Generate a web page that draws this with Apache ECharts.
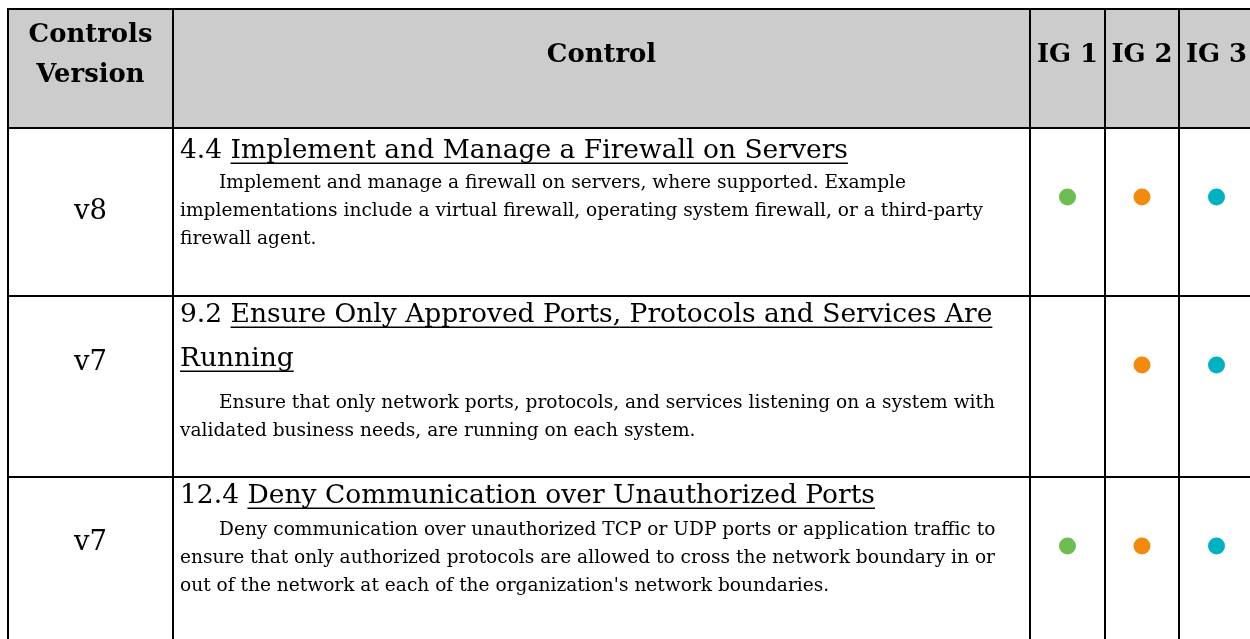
<!DOCTYPE html>
<html>
<head>
<meta charset="utf-8">
<script src="https://cdn.jsdelivr.net/npm/echarts@6/dist/echarts.min.js"></script>
<style>
html,body{margin:0;padding:0;background:#ffffff;}
#main{width:1250px;height:639px;}
</style>
</head>
<body>
<div id="main"></div>
<script>
// ---------------- data ----------------
const headers = ['Controls\nVersion', 'Control', 'IG 1', 'IG 2', 'IG 3'];
const versions = ['v8', 'v7', 'v7'];
const controlIds = ['4.4', '9.2', '12.4'];
const controlTitleLines = [
  ['Implement and Manage a Firewall on Servers'],
  ['Ensure Only Approved Ports, Protocols and Services Are', 'Running'],
  ['Deny Communication over Unauthorized Ports']
];
const controlDescLines = [
  ['Implement and manage a firewall on servers, where supported. Example',
   'implementations include a virtual firewall, operating system firewall, or a third-party',
   'firewall agent.'],
  ['Ensure that only network ports, protocols, and services listening on a system with',
   'validated business needs, are running on each system.'],
  ['Deny communication over unauthorized TCP or UDP ports or application traffic to',
   'ensure that only authorized protocols are allowed to cross the network boundary in or',
   "out of the network at each of the organization's network boundaries."]
];
const ig1 = [true, false, true];
const ig2 = [true, true, true];
const ig3 = [true, true, true];

// ---------------- layout ----------------
const colX = [8, 173, 1030, 1105, 1179, 1254];
const rowY = [9, 128, 296, 477, 645];
const FAMILY = '"DejaVu Serif", serif';
const headerFill = '#cccccc';
const igColors = ['#6dbd52', '#f38a10', '#00b1c1'];
const titleOffsets = [23, 19, 19];
const bodyGaps = [32, 44, 34];
const titlePitch = 44, bodyPitch = 28.3, bodyIndent = 39, textLeftPad = 7;
const versionOffset = [84, 67, 66];
const dotOffset = 69;

const mctx = document.createElement('canvas').getContext('2d');
function measure(text, font) { mctx.font = font; return mctx.measureText(text).width; }
function fitSize(text, weight, target) {
  return 100 * target / measure(text, weight + ' 100px ' + FAMILY);
}
const titleSize = fitSize('4.4 Implement and Manage a Firewall on Servers', 'normal', 668);
const bodySize = fitSize('implementations include a virtual firewall, operating system firewall, or a third-party', 'normal', 803);
const headerSize = fitSize('Controls', 'bold', 124);
const versionSize = fitSize('v7', 'normal', 33);
const titleFont = 'normal ' + titleSize.toFixed(2) + 'px ' + FAMILY;
const bodyFont = 'normal ' + bodySize.toFixed(2) + 'px ' + FAMILY;
const headerFont = 'bold ' + headerSize.toFixed(2) + 'px ' + FAMILY;
const versionFont = 'normal ' + versionSize.toFixed(2) + 'px ' + FAMILY;

const cells = [];
for (let r = 0; r < rowY.length - 1; r++) {
  for (let c = 0; c < colX.length - 1; c++) cells.push([c, r]);
}

function textEl(api, str, x, y, font, align) {
  const p = api.coord([x, y]);
  return { type: 'text', z2: 5, style: { text: str, x: p[0], y: p[1], font: font, fill: '#000000', align: align || 'left', verticalAlign: 'middle' } };
}

function renderCell(params, api) {
  const c = api.value(0), r = api.value(1);
  const p0 = api.coord([colX[c], rowY[r]]);
  const p1 = api.coord([colX[c + 1], rowY[r + 1]]);
  const children = [];
  children.push({ type: 'rect', z2: 0, shape: { x: p0[0], y: p0[1], width: p1[0] - p0[0], height: p1[1] - p0[1] },
    style: { fill: r === 0 ? headerFill : '#ffffff' } });
  children.push({ type: 'rect', z2: 10, shape: { x: p0[0], y: p0[1], width: p1[0] - p0[0], height: p1[1] - p0[1] },
    style: { fill: null, stroke: '#000000', lineWidth: 2 } });
  const cx = (colX[c] + colX[c + 1]) / 2;
  if (r === 0) {
    const parts = headers[c].split('\n');
    if (parts.length === 2) {
      children.push(textEl(api, parts[0], cx, 35, headerFont, 'center'));
      children.push(textEl(api, parts[1], cx, 75, headerFont, 'center'));
    } else {
      children.push(textEl(api, parts[0], cx, 55, headerFont, 'center'));
    }
  } else {
    const i = r - 1;
    if (c === 0) {
      children.push(textEl(api, versions[i], cx, rowY[r] + versionOffset[i], versionFont, 'center'));
    } else if (c === 1) {
      const x0 = colX[1] + textLeftPad;
      const prefix = controlIds[i] + ' ';
      const pw = measure(prefix, titleFont);
      let y = rowY[r] + titleOffsets[i];
      controlTitleLines[i].forEach(function (ln, k) {
        const lx = k === 0 ? x0 + pw : x0;
        if (k === 0) children.push(textEl(api, prefix, x0, y, titleFont, 'left'));
        children.push(textEl(api, ln, lx, y, titleFont, 'left'));
        const w = measure(ln, titleFont);
        const ua = api.coord([lx, y + titleSize * 0.46]);
        const ub = api.coord([lx + w, y + titleSize * 0.46]);
        children.push({ type: 'line', z2: 5, shape: { x1: ua[0], y1: ua[1], x2: ub[0], y2: ub[1] },
          style: { stroke: '#000000', lineWidth: 1.5 } });
        if (k < controlTitleLines[i].length - 1) y += titlePitch;
      });
      let by = y + bodyGaps[i];
      controlDescLines[i].forEach(function (ln, k) {
        children.push(textEl(api, ln, k === 0 ? x0 + bodyIndent : x0, by, bodyFont, 'left'));
        by += bodyPitch;
      });
    }
  }
  return { type: 'group', children: children };
}

function dotData(flags, col) {
  const out = [];
  flags.forEach(function (f, i) {
    if (f) out.push([(colX[col] + colX[col + 1]) / 2, rowY[i + 1] + dotOffset]);
  });
  return out;
}

const chart = echarts.init(document.getElementById('main'), null, { renderer: 'canvas' });
chart.setOption({
  animation: false,
  backgroundColor: '#ffffff',
  grid: { left: 0, right: 0, top: 0, bottom: 0 },
  xAxis: { type: 'value', min: 0, max: 1250, show: false },
  yAxis: { type: 'value', min: 0, max: 639, inverse: true, show: false },
  series: [
    { type: 'custom', z: 2, clip: false, renderItem: renderCell, data: cells, silent: true },
    { type: 'scatter', z: 5, name: 'IG 1', data: dotData(ig1, 2), symbolSize: 17, itemStyle: { color: igColors[0], opacity: 1 }, silent: true },
    { type: 'scatter', z: 5, name: 'IG 2', data: dotData(ig2, 3), symbolSize: 17, itemStyle: { color: igColors[1], opacity: 1 }, silent: true },
    { type: 'scatter', z: 5, name: 'IG 3', data: dotData(ig3, 4), symbolSize: 17, itemStyle: { color: igColors[2], opacity: 1 }, silent: true }
  ]
});
</script>
</body>
</html>
